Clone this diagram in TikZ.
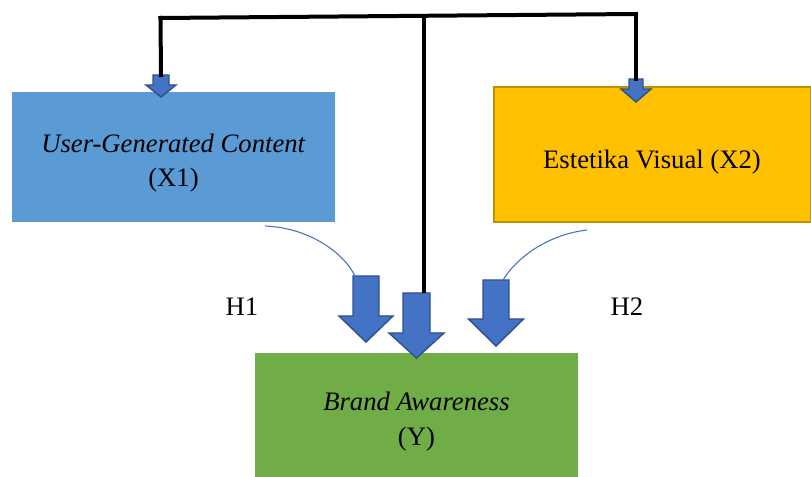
\documentclass[tikz,border=0pt]{standalone}
\usepackage{fontspec}
\setmainfont{Liberation Serif}
\usetikzlibrary{calc}
\definecolor{ucblue}{HTML}{5B9BD5}
\definecolor{evgold}{HTML}{FFC000}
\definecolor{evedge}{HTML}{BF9000}
\definecolor{bagreen}{HTML}{70AD47}
\definecolor{arrblue}{HTML}{4472C4}
\definecolor{arredge}{HTML}{2F528F}
% block arrow pointing down: name, x, top, neck, tip, half shaft, half head
\newcommand{\downblock}[7]{%
	\coordinate (#1) at (#2,#3);
	\filldraw[fill=arrblue, draw=arredge, line width=1.1pt, line join=miter]
		(#2-#6,#3) -- (#2+#6,#3) -- (#2+#6,#4) -- (#2+#7,#4) -- (#2,#5) -- (#2-#7,#4) -- (#2-#6,#4) -- cycle;}
\tikzset{
	varbox/.style={inner sep=0pt, align=center, font=\fontsize{20}{26}\selectfont},
	frame/.style={line width=3pt, line cap=rect},
	link/.style={arrblue, line width=0.8pt}
}
\begin{document}
\begin{tikzpicture}[x=0.75pt, y=-0.75pt]
	\useasboundingbox (0,0) rectangle (811,477);
	\node[varbox, fill=ucblue, minimum width={323*0.75pt}, minimum height={130*0.75pt},
		label={[varbox, yshift=-4.5pt]center:{\textit{User-Generated Content}\\(X1)}}] (X1) at (173.5,157) {};
	\node[varbox, fill=evgold, draw=evedge, line width=1.5pt, minimum width={317*0.75pt}, minimum height={135*0.75pt},
		label={[varbox, yshift=-5pt]center:{Estetika Visual (X2)}}] (X2) at (652,155) {};
	\node[varbox, fill=bagreen, minimum width={323*0.75pt}, minimum height={124*0.75pt},
		label={[varbox, yshift=-5pt]center:{\textit{Brand Awareness}\\(Y)}}] (Y) at (416.5,415) {};
	% frame of lines on top
	\coordinate (tl) at (160.5,18);
	\coordinate (tm) at (424,16);
	\coordinate (tr) at (636,14);
	\coordinate (yjoin) at (424,293);
	\draw[frame] (tl) -- (tr);
	% arrows
	\downblock{x1in}{161}{75}{85}{97}{8}{15}
	\downblock{x2in}{636}{79}{89}{102}{7}{15}
	\downblock{h1}{366}{276}{316}{342}{13}{27}
	\downblock{yin}{416.5}{293}{333}{358}{13.5}{27.5}
	\downblock{h2}{496}{280}{319}{346}{13}{27.5}
	\draw[frame] (tl) -- (x1in);
	\draw[frame] (tr) -- (x2in);
	\draw[frame, line cap=butt] (tm) -- (yjoin);
	% curved links
	\draw[link] (265,226) .. controls (312,228) and (345,255) .. ($(h1)+(-11,0)$);
	\draw[link] (587,230) .. controls (545,235) and (515,260) .. ($(h2)+(7,0)$);
	\node[varbox] (H1) at (242,307) {H1};
	\node[varbox] (H2) at (627,307) {H2};
\end{tikzpicture}
\end{document}
